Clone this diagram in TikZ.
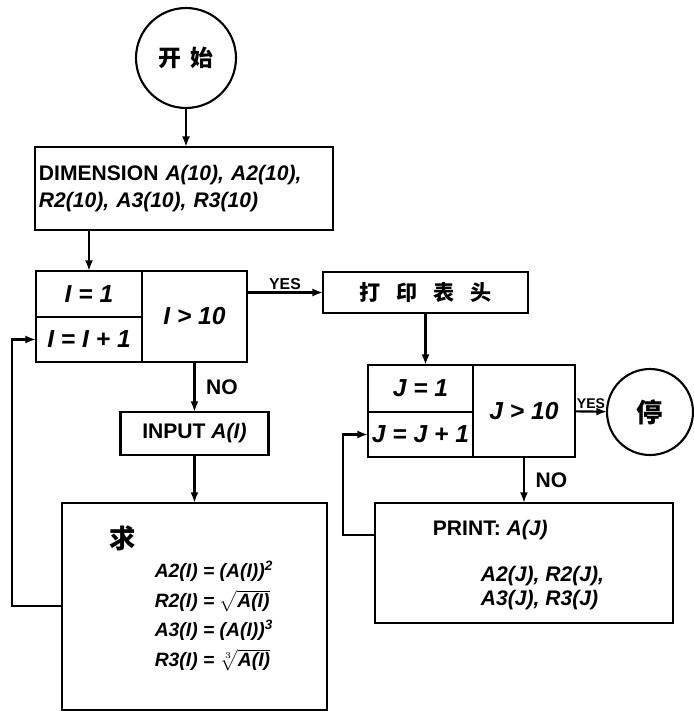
\documentclass[tikz,border=0pt]{standalone}
\usepackage{fontspec}
\setmainfont{Liberation Sans}
\newfontfamily\cjk{Noto Sans CJK SC}
\usepackage{tikz}
\usetikzlibrary{arrows.meta, positioning}

\begin{document}
\begin{tikzpicture}[
    x=0.02cm, y=-0.02cm,
    node distance=1cm,
    font=\fontsize{12}{15}\selectfont\bfseries,
    line width=1.2pt,
    >={Latex[length=6pt,width=4.5pt]},
    box/.style={draw, rectangle, inner sep=2pt, outer sep=0pt, align=center},
    cell/.style={box, font=\fontsize{14}{16}\selectfont\bfseries\itshape},
    term/.style={draw, circle, inner sep=0pt, outer sep=0pt, minimum size=#1},
    flag/.style={font=\fontsize{#1}{#1}\selectfont\bfseries, inner sep=1pt},
    arrow/.style={->},
]
    \useasboundingbox (0,0) rectangle (694,711);

    % Start and declarations
    \node[term=2cm] (start) at (186,58) {\cjk\fontsize{13}{13}\selectfont 开\hspace{5pt}始};
    \node[box, anchor=north west, minimum width=5.96cm, minimum height=1.66cm,
          text width=5.8cm, align=left] (dim) at (35,147)
          {DIMENSION \textit{A(10), A2(10),}\\\textit{R2(10), A3(10), R3(10)}};
    \draw[arrow] (start.south) -- (start.south |- dim.north);

    % Loop over I
    \node[cell, anchor=north west, minimum width=2.12cm, minimum height=0.92cm]
          (iinit) at (36,271) {I = 1};
    \node[cell, below=0pt of iinit, minimum width=2.12cm, minimum height=0.9cm]
          (iinc) {I = I + 1};
    \node[cell, anchor=north west, minimum width=2.1cm, minimum height=1.82cm]
          (itest) at (iinit.north east) {I > 10};
    \draw[arrow] (dim.south -| iinit) -- (iinit.north);

    \node[box, below=1cm of itest, minimum width=2.96cm, minimum height=0.86cm]
          (input) {INPUT \textit{A(I)}};
    \node[box, below=0.96cm of input, minimum width=5.3cm, minimum height=4.14cm]
          (calc) {};
    \node[font=\cjk\fontsize{15}{15}\selectfont\bfseries] (calchead) at (123,538) {求};
    \node[font=\fontsize{11}{14}\selectfont\bfseries\itshape] (calcbody) at (214,616)
          {\renewcommand{\arraystretch}{1.2}%
           \begin{tabular}{@{}r@{\ =\ }l@{}}
            A2(I) & (A(I))\textsuperscript{2}\\
            R2(I) & $\sqrt{\mbox{A(I)}}$\\
            A3(I) & (A(I))\textsuperscript{3}\\
            R3(I) & $\sqrt[3]{\mbox{A(I)}}$
           \end{tabular}};

    \draw[arrow] (itest.south) -- (input.north)
          node[flag=12, midway, right=5pt] (noi) {NO};
    \draw[arrow] (input) -- (calc);
    \coordinate (lloop) at (12,0);
    \draw[arrow] (calc.west) -- (calc.west -| lloop) |- (iinc.west);

    % Header and loop over J
    \node[box, minimum width=4.1cm, minimum height=0.82cm] (header) at (425.5,292.5)
          {\cjk 打\hspace{9pt}印\hspace{9pt}表\hspace{9pt}头};
    \draw[arrow] (itest.east |- header) -- (header.west)
          node[flag=9, midway, above] (yesi) {YES};

    \node[cell, anchor=north west, minimum width=2.1cm, minimum height=0.94cm]
          (jinit) at (368,365) {J = 1};
    \node[cell, below=0pt of jinit, minimum width=2.1cm, minimum height=0.9cm]
          (jinc) {J = J + 1};
    \node[cell, anchor=north west, minimum width=2.04cm, minimum height=1.84cm]
          (jtest) at (jinit.north east) {J > 10};
    \draw[arrow] (header.south) -- (header.south |- jinit.north);

    \node[term=1.72cm, font=\cjk\fontsize{15}{15}\selectfont\bfseries] (stop) at (650,412) {停};
    \draw[arrow] (jtest) -- (stop)
          node[flag=8, midway, above] (yesj) {YES};

    \node[box, below=0.92cm of jtest, minimum width=5.96cm, minimum height=2.4cm]
          (print) {};
    \node[anchor=west] (printhead) at (426,530) {PRINT: \textit{A(J)}};
    \node[anchor=west, align=left, font=\fontsize{12}{14}\selectfont\bfseries\itshape]
          (printvars) at (474,588) {A2(J), R2(J),\\A3(J), R3(J)};
    \draw[arrow] (jtest) -- (print)
          node[flag=12, midway, right=5pt] (noj) {NO};
    \coordinate (rloop) at (343,535);
    \draw[arrow] (rloop -| print.west) -- (rloop) |- (jinc.west);

\end{tikzpicture}
\end{document}
